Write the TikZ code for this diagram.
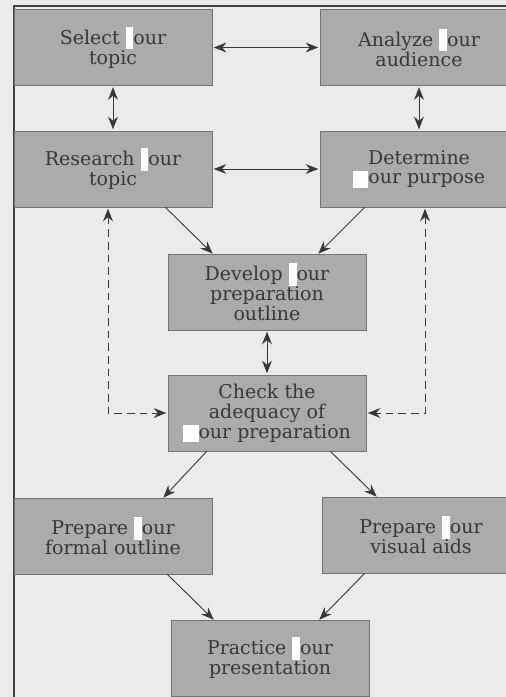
\documentclass[tikz,border=0pt]{standalone}
\usepackage{fontspec}
\setmainfont{DejaVu Serif}
\usetikzlibrary{%
  arrows.meta%
}

\definecolor{pagebg}{gray}{0.92}
\definecolor{boxfill}{gray}{0.67}
\definecolor{inkgray}{gray}{0.22}

% white blanks as printed in the scan
\newcommand\blankmid{\textcolor{white}{\rule[-3.5pt]{5.5pt}{16pt}}}
\newcommand\blankstart{\textcolor{white}{\rule[-2.5pt]{11pt}{12pt}}}

\tikzset{
  stepbox/.style={draw=black!55, fill=boxfill, text=inkgray,
    minimum width=4.95cm, minimum height=1.9cm, align=center,
    inner sep=2pt, font=\fontsize{13.5}{14.2}\selectfont},
  link/.style={draw=inkgray, line width=0.65pt,
    -{Stealth[length=9pt,width=7pt,inset=3pt]}},
  twoway/.style={link, {Stealth[length=9pt,width=7pt,inset=3pt]}-{Stealth[length=9pt,width=7pt,inset=3pt]},
    shorten <=1pt, shorten >=1pt},
  loopback/.style={twoway, dash pattern=on 5.5pt off 3.5pt}
}

\begin{document}
\begin{tikzpicture}[x=0.025cm,y=-0.025cm]
    \path [use as bounding box, fill=pagebg] (0,0) rectangle (506,697);
    \clip (0,0) rectangle (506,697);
    \draw [black!75, line width=1.4pt] (506,6) -- (14,6) -- (14,697);

    \node [stepbox] (select)    at (113,47.5) {Select \blankmid{}our\\topic};
    \node [stepbox] (analyze)   at (419,47.5) {Analyze \blankmid{}our\\audience};
    \node [stepbox] (research)  at (113,169)  {Research \blankmid{}our\\topic};
    \node [stepbox] (determine) at (419,169)  {Determine\\\blankstart{}our purpose};
    \node [stepbox] (develop)   at (267,292)  {Develop \blankmid{}our\\preparation\\outline};
    \node [stepbox] (check)     at (267,413)  {Check the\\adequacy of\\\blankstart{}our preparation};
    \node [stepbox] (formal)    at (113,536)  {Prepare \blankmid{}our\\formal outline};
    \node [stepbox] (visual)    at (421,535)  {Prepare \blankmid{}our\\visual aids};
    \node [stepbox] (practice)  at (270,658)  {Practice \blankmid{}our\\presentation};

    \draw [twoway] (select) -- (analyze);
    \draw [twoway] (select) -- (research);
    \draw [twoway] (analyze) -- (determine);
    \draw [twoway] (research) -- (determine);
    \draw [twoway] (develop) -- (check);

    \draw [link] ([xshift=-1.175cm]research.south east) -- ([xshift=1.125cm]develop.north west);
    \draw [link] ([xshift=1.125cm]determine.south west) -- ([xshift=-1.2cm]develop.north east);
    \draw [link] ([xshift=0.975cm]check.south west) -- ([xshift=-1.225cm]formal.north east);
    \draw [link] ([xshift=-0.9cm]check.south east) -- ([xshift=1.375cm]visual.north west);
    \draw [link] ([xshift=-1.125cm]formal.south east) -- ([xshift=1.075cm]practice.north west);
    \draw [link] ([xshift=1.075cm]visual.south west) -- ([xshift=-1.25cm]practice.north east);

    \draw [loopback] ([xshift=-0.125cm]research.south) |- (check.west);
    \draw [loopback] ([xshift=0.15cm]determine.south) |- (check.east);
  \end{tikzpicture}
\end{document}
